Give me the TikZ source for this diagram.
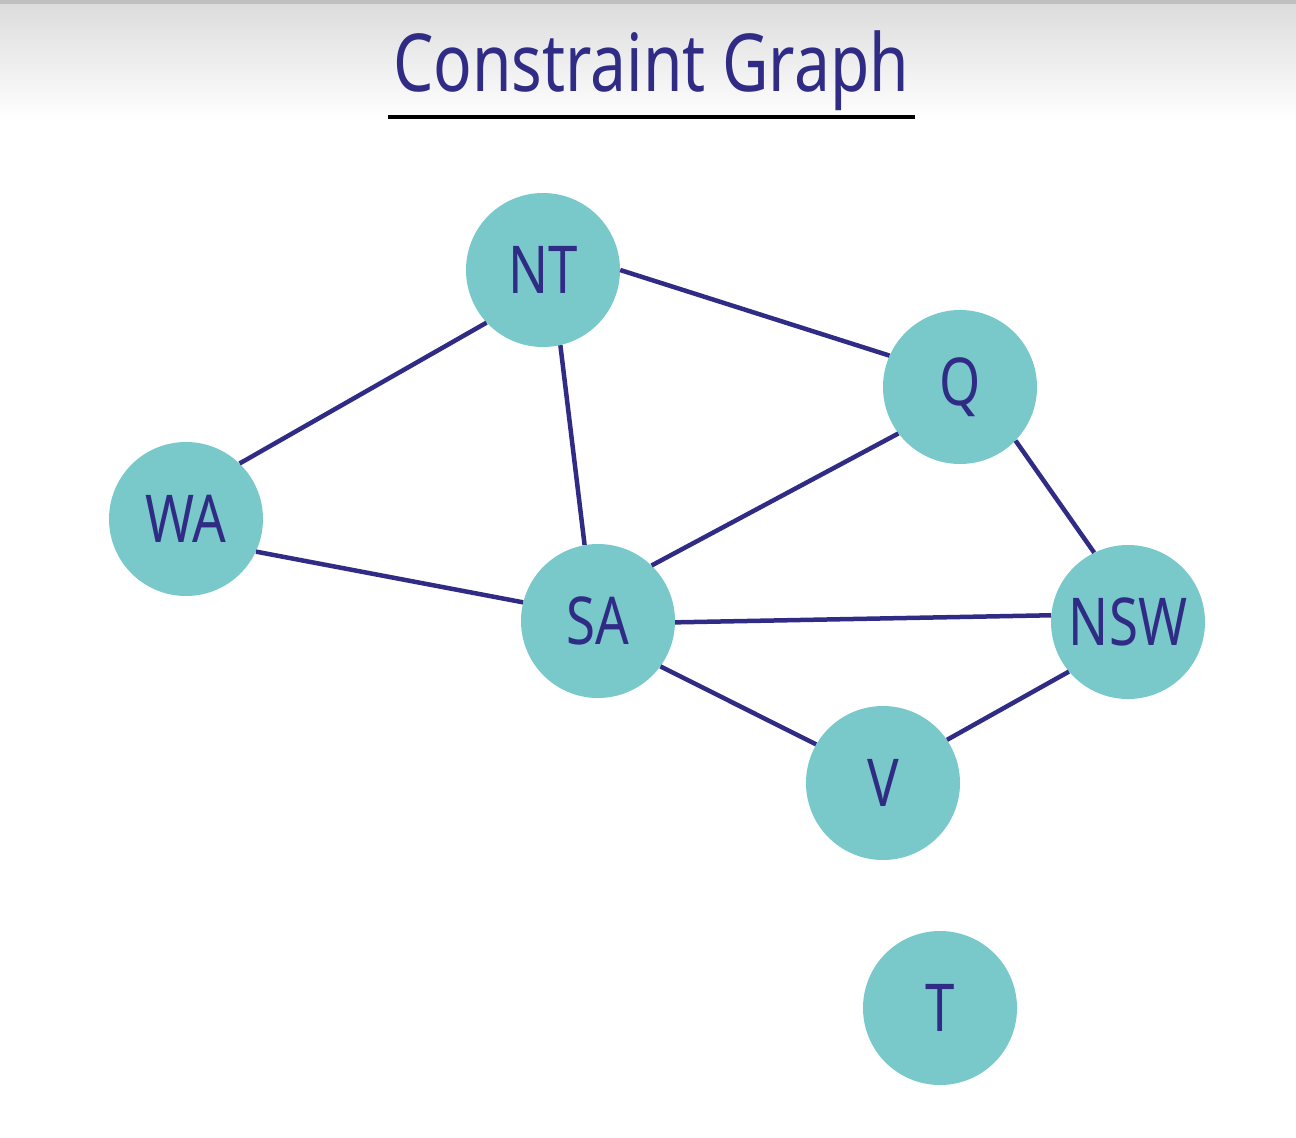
\documentclass[tikz,border=0pt]{standalone}
\usepackage{fontspec}
\newfontfamily\hand{Noto Sans}[FakeStretch=0.8]
\begin{document}
\definecolor{teal}{HTML}{79C9CB}
\definecolor{ink}{HTML}{302C85}
\begin{tikzpicture}[x=1pt,y=-1pt,
  region/.style={circle,fill=teal,minimum size=154pt,inner sep=0pt,
    text=ink,font=\hand\fontsize{66}{66}\selectfont},
  border/.style={draw=ink,line width=4.5pt}]
  % canvas and soft grey header band
  \fill[white] (0,0) rectangle (1296,1138);
  \shade[top color=black!14,bottom color=white] (0,0) rectangle (1296,120);
  \fill[black!25] (0,0) rectangle (1296,4);
  \useasboundingbox (0,0) rectangle (1296,1138);

  % title
  \node[text=ink,font=\hand\fontsize{80}{80}\selectfont,anchor=base,inner sep=0pt]
    (title) at (651,91) {Constraint Graph};
  \draw[line width=4pt] (388,117) -- (915,117);

  % regions
  \node[region] (NT)  at (543,270)  {NT};
  \node[region] (Q)   at (960,387)  {Q};
  \node[region] (WA)  at (186,519)  {WA};
  \node[region] (SA)  at (598,621)  {SA};
  \node[region] (NSW) at (1128,622) {NSW};
  \node[region] (V)   at (883,783)  {V};
  \node[region] (T)   at (940,1008) {T};

  % adjacency constraints, attached at the rim
  \draw[border] (WA.46)   -- (NT.223);
  \draw[border] (NT.283)  -- (SA.100);
  \draw[border] (NT.0)    -- (Q.156);
  \draw[border] (WA.-25)  -- (SA.166);
  \draw[border] (SA.46)   -- (Q.217);
  \draw[border] (SA.-1)   -- (NSW.175);
  \draw[border] (Q.-44)   -- (NSW.116);
  \draw[border] (SA.-36)  -- (V.150);
  \draw[border] (NSW.220) -- (V.34);
\end{tikzpicture}
\end{document}
